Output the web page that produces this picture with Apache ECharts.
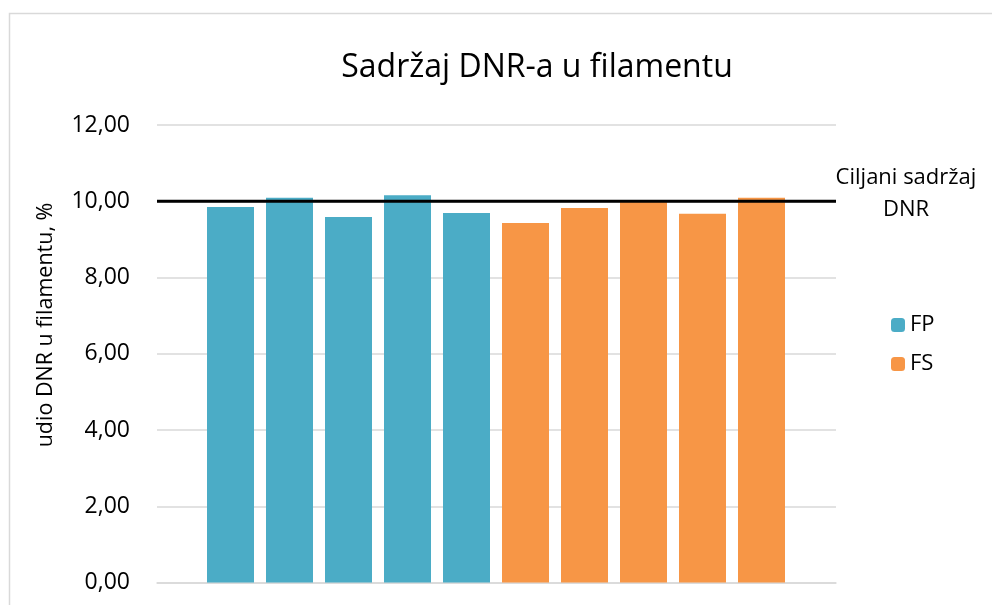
<!DOCTYPE html>
<html>
<head>
<meta charset="utf-8">
<style>
html,body{margin:0;padding:0;background:#fff;}
#chart{width:992px;height:605px;}
</style>
<script src="https://cdn.jsdelivr.net/npm/echarts@6/dist/echarts.min.js"></script>
</head>
<body>
<div id="chart"></div>
<script>
var categories = ['1','2','3','4','5','6','7','8','9','10'];
var fpValues = [9.85, 10.09, 9.59, 10.16, 9.69, '-', '-', '-', '-', '-'];
var fsValues = ['-', '-', '-', '-', '-', 9.43, 9.82, 9.98, 9.67, 10.09];
var targetValue = 10;
var targetName = 'Ciljani sadržaj\nDNR';
var yTicks = [0, 2, 4, 6, 8, 10, 12];
var titleText = 'Sadržaj DNR-a u filamentu';
var yAxisName = 'udio DNR u filamentu, %';

var FONT = '"Open Sans", sans-serif';
var chart = echarts.init(document.getElementById('chart'));
chart.setOption({
  animation: false,
  backgroundColor: '#fff',
  title: {
    text: titleText, left: 532, top: 47, textAlign: 'center',
    textStyle: {fontFamily: FONT, fontSize: 32, fontWeight: 'normal', color: '#000'}
  },
  legend: {
    orient: 'vertical', left: 886, top: 309, itemWidth: 14, itemHeight: 14, itemGap: 17,
    data: ['FP', 'FS'],
    textStyle: {fontFamily: FONT, fontSize: 22, color: '#000'}
  },
  graphic: [
    {type: 'rect', shape: {x: 9.5, y: 13.5, width: 1000, height: 700}, style: {fill: 'none', stroke: '#d9d9d9', lineWidth: 1.5}, silent: true},
    {type: 'text', x: 46, y: 325, rotation: Math.PI / 2,
     style: {text: yAxisName, fontFamily: FONT, fontSize: 21.5, fill: '#000', textAlign: 'center', textVerticalAlign: 'middle'}}
  ],
  grid: [
    {left: 157, right: 156, top: 125, bottom: 22.5},
    {left: 201, right: 201, top: 125, bottom: 22.5}
  ],
  xAxis: [
    {type: 'value', gridIndex: 0, min: 0, max: 1, show: true,
     axisLine: {show: true, onZero: false, lineStyle: {color: '#d9d9d9', width: 1.5}},
     axisTick: {show: false}, axisLabel: {show: false}, splitLine: {show: false}},
    {type: 'category', gridIndex: 1, data: categories, show: false}
  ],
  yAxis: [
    {type: 'value', gridIndex: 0, min: yTicks[0], max: yTicks[yTicks.length - 1], interval: 2,
     axisLine: {show: false}, axisTick: {show: false},
     axisLabel: {fontFamily: FONT, fontSize: 23, color: '#000', margin: 27,
       formatter: function (v) { return v.toFixed(2).replace('.', ','); }},
     splitLine: {lineStyle: {color: '#d9d9d9', width: 1.5}}},
    {type: 'value', gridIndex: 1, min: yTicks[0], max: yTicks[yTicks.length - 1], interval: 2, show: false, splitLine: {show: false}}
  ],
  series: [
    {name: 'FP', type: 'bar', xAxisIndex: 1, yAxisIndex: 1, stack: 's', data: fpValues, barWidth: 47, itemStyle: {color: '#4bacc6'}},
    {name: 'FS', type: 'bar', xAxisIndex: 1, yAxisIndex: 1, stack: 's', data: fsValues, barWidth: 47, itemStyle: {color: '#f79646'}},
    {name: targetName, type: 'line', xAxisIndex: 0, yAxisIndex: 0, data: [[0, targetValue], [1, targetValue]],
     symbol: 'none', lineStyle: {color: '#000', width: 3}, z: 5,
     endLabel: {show: true, formatter: targetName, fontFamily: FONT, fontSize: 22, color: '#000', align: 'center',
       lineHeight: 32, offset: [62, -8]}}
  ]
});
</script>
</body>
</html>
